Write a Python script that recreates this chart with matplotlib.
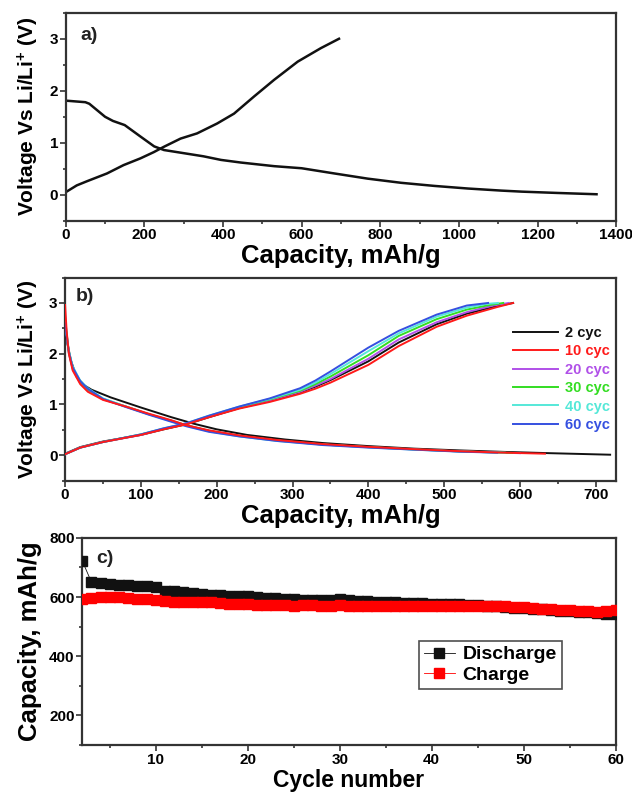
import matplotlib
matplotlib.use('Agg')
import matplotlib.pyplot as plt
from matplotlib.ticker import MultipleLocator

plt.rcParams['font.family'] = ['Liberation Sans', 'DejaVu Sans']
plt.rcParams['font.weight'] = 'bold'
plt.rcParams['mathtext.fontset'] = 'custom'
plt.rcParams['mathtext.rm'] = 'Liberation Sans:bold'
plt.rcParams['mathtext.bf'] = 'Liberation Sans:bold'
plt.rcParams['mathtext.default'] = 'bf'

# ---- panel a: first discharge / charge ----
a_dis_cap = [0, 50, 60, 100, 120, 150, 190, 225, 250, 300, 350, 395, 445, 530, 600, 683, 768, 853, 938, 1023, 1108, 1160, 1250, 1350]
a_dis_v = [1.81, 1.78, 1.75, 1.50, 1.42, 1.34, 1.12, 0.93, 0.86, 0.80, 0.74, 0.67, 0.62, 0.55, 0.51, 0.41, 0.31, 0.23, 0.17, 0.12, 0.08, 0.06, 0.035, 0.01]
a_chg_cap = [0, 28, 54, 105, 147, 190, 224, 249, 292, 334, 385, 428, 479, 530, 590, 649, 695]
a_chg_v = [0.05, 0.18, 0.26, 0.41, 0.57, 0.70, 0.82, 0.92, 1.08, 1.18, 1.37, 1.56, 1.89, 2.21, 2.56, 2.82, 3.0]

# ---- panel b: selected cycles ----
cycle_labels = ['2 cyc', '10 cyc', '20 cyc', '30 cyc', '40 cyc', '60 cyc']
cycle_colors = ['#111111', '#ff1a1a', '#b050e8', '#33dd22', '#55e8d8', '#3550e0']

dis_cap_2 = [0, 3, 8, 15, 25, 35, 60, 100, 140, 170, 200, 240, 290, 340, 400, 460, 520, 580, 640, 719]
dis_v_2 = [2.55, 2.2, 1.85, 1.55, 1.38, 1.29, 1.14, 0.94, 0.75, 0.62, 0.51, 0.40, 0.31, 0.24, 0.18, 0.13, 0.095, 0.065, 0.04, 0.01]
dis_cap_10 = [0, 2, 5, 10, 20, 30, 50, 80, 110, 140, 160, 190, 230, 280, 340, 400, 460, 520, 580, 633]
dis_v_10 = [2.96, 2.45, 2.0, 1.67, 1.40, 1.25, 1.09, 0.96, 0.82, 0.69, 0.59, 0.49, 0.39, 0.30, 0.22, 0.165, 0.12, 0.08, 0.05, 0.03]
dis_cap_20 = [0, 2, 5, 10, 20, 30, 50, 80, 110, 140, 160, 190, 230, 280, 340, 400, 460, 520, 600]
dis_v_20 = [2.75, 2.4, 2.0, 1.7, 1.42, 1.28, 1.10, 0.96, 0.81, 0.68, 0.59, 0.48, 0.38, 0.29, 0.21, 0.16, 0.115, 0.075, 0.04]
dis_cap_30 = [0, 2, 5, 10, 20, 30, 50, 80, 110, 140, 160, 190, 230, 280, 340, 400, 460, 520, 590]
dis_v_30 = [2.7, 2.4, 2.02, 1.72, 1.45, 1.30, 1.11, 0.96, 0.81, 0.68, 0.59, 0.48, 0.38, 0.29, 0.21, 0.16, 0.115, 0.075, 0.045]
dis_cap_40 = [0, 2, 5, 10, 20, 30, 50, 80, 110, 140, 160, 190, 230, 280, 340, 400, 460, 520, 580]
dis_v_40 = [2.65, 2.38, 2.05, 1.75, 1.47, 1.32, 1.12, 0.96, 0.81, 0.67, 0.58, 0.47, 0.37, 0.28, 0.21, 0.155, 0.11, 0.075, 0.05]
dis_cap_60 = [0, 2, 5, 10, 20, 30, 50, 80, 110, 140, 160, 190, 230, 280, 340, 400, 460, 520, 570]
dis_v_60 = [2.6, 2.35, 2.03, 1.73, 1.46, 1.31, 1.11, 0.95, 0.80, 0.66, 0.57, 0.46, 0.37, 0.28, 0.20, 0.15, 0.11, 0.07, 0.05]

chg_cap_2 = [0, 20, 50, 100, 130, 160, 190, 230, 270, 310, 330, 350, 400, 440, 490, 530, 570, 591]
chg_v_2 = [0.03, 0.16, 0.27, 0.40, 0.51, 0.61, 0.75, 0.93, 1.07, 1.24, 1.35, 1.48, 1.85, 2.22, 2.58, 2.79, 2.94, 3.0]
chg_cap_10 = [0, 20, 50, 100, 130, 160, 190, 230, 270, 310, 330, 350, 400, 440, 490, 530, 570, 591]
chg_v_10 = [0.02, 0.15, 0.26, 0.40, 0.51, 0.61, 0.75, 0.92, 1.05, 1.21, 1.31, 1.43, 1.78, 2.15, 2.53, 2.75, 2.92, 3.0]
chg_cap_20 = [0, 20, 50, 100, 130, 160, 190, 230, 270, 310, 330, 350, 400, 440, 490, 530, 565, 585]
chg_v_20 = [0.02, 0.15, 0.26, 0.40, 0.52, 0.62, 0.76, 0.94, 1.08, 1.25, 1.37, 1.50, 1.90, 2.28, 2.62, 2.82, 2.95, 3.0]
chg_cap_30 = [0, 20, 50, 100, 130, 160, 190, 230, 270, 310, 330, 350, 400, 440, 490, 530, 560, 578]
chg_v_30 = [0.02, 0.15, 0.26, 0.41, 0.52, 0.62, 0.77, 0.95, 1.10, 1.27, 1.40, 1.55, 1.97, 2.35, 2.68, 2.87, 2.96, 3.0]
chg_cap_40 = [0, 20, 50, 100, 130, 160, 190, 230, 270, 310, 330, 350, 400, 440, 490, 530, 555, 571]
chg_v_40 = [0.02, 0.15, 0.26, 0.41, 0.53, 0.63, 0.78, 0.96, 1.11, 1.29, 1.43, 1.60, 2.05, 2.40, 2.73, 2.91, 2.98, 3.0]
chg_cap_60 = [0, 20, 50, 100, 130, 160, 190, 230, 270, 310, 330, 350, 400, 440, 490, 530, 558]
chg_v_60 = [0.02, 0.15, 0.26, 0.41, 0.53, 0.63, 0.78, 0.96, 1.12, 1.32, 1.47, 1.65, 2.12, 2.45, 2.77, 2.95, 3.0]

# ---- panel c: cycling ----
cycles = list(range(2, 61))
discharge_cap = [722, 650, 648, 645, 642, 640, 638, 636, 635,
                 622, 620, 617, 612, 610, 608, 607, 605, 604, 603,
                 600, 598, 596, 594, 592, 591, 590, 590, 591, 592,
                 590, 588, 586, 584, 583, 582, 581, 580, 579, 578,
                 577, 576, 575, 574, 572, 570, 568, 566, 564, 562,
                 560, 558, 556, 554, 552, 550, 548, 546, 544, 542]
charge_cap = [595, 596, 600, 601, 599, 597, 595, 593, 591,
              587, 583, 582, 583, 584, 582, 580, 578, 576, 575,
              574, 573, 572, 572, 571, 572, 572, 571, 571, 572,
              571, 570, 570, 570, 569, 570, 570, 570, 570, 570,
              569, 569, 569, 570, 571, 571, 570, 569, 567, 565,
              563, 561, 559, 557, 555, 553, 552, 551, 554, 555]

fig = plt.figure(figsize=(6.32, 7.97), dpi=100)
ax_a = fig.add_axes([0.104, 0.723, 0.871, 0.261])
ax_b = fig.add_axes([0.103, 0.397, 0.872, 0.2547])
ax_c = fig.add_axes([0.1302, 0.0652, 0.8437, 0.260])

spine_col = '#333333'
for ax in (ax_a, ax_b, ax_c):
    for s in ax.spines.values():
        s.set_linewidth(1.6)
        s.set_color(spine_col)
    ax.tick_params(which='both', direction='out', top=False, right=False,
                   labelsize=11, color=spine_col, width=1.2, pad=1.5)
    ax.tick_params(which='major', length=4)
    ax.tick_params(which='minor', length=2.5)

ylab = 'Voltage Vs Li/Li$^{+}$ (V)'

# panel a
ax_a.plot(a_dis_cap, a_dis_v, color='#111111', lw=1.8)
ax_a.plot(a_chg_cap, a_chg_v, color='#111111', lw=1.8)
ax_a.set_xlim(0, 1400)
ax_a.set_ylim(-0.5, 3.5)
ax_a.xaxis.set_major_locator(MultipleLocator(200))
ax_a.xaxis.set_minor_locator(MultipleLocator(100))
ax_a.yaxis.set_major_locator(MultipleLocator(1))
ax_a.yaxis.set_minor_locator(MultipleLocator(0.5))
ax_a.set_xlabel('Capacity, mAh/g', fontsize=18.5, fontweight='bold', labelpad=1)
ax_a.set_ylabel(ylab, fontsize=15, fontweight='bold', labelpad=6)
ax_a.text(0.026, 0.93, 'a)', transform=ax_a.transAxes, fontsize=14,
          fontweight='bold', va='top', ha='left', color='#222222')

# panel b
dis_caps = [dis_cap_2, dis_cap_10, dis_cap_20, dis_cap_30, dis_cap_40, dis_cap_60]
dis_vs = [dis_v_2, dis_v_10, dis_v_20, dis_v_30, dis_v_40, dis_v_60]
chg_caps = [chg_cap_2, chg_cap_10, chg_cap_20, chg_cap_30, chg_cap_40, chg_cap_60]
chg_vs = [chg_v_2, chg_v_10, chg_v_20, chg_v_30, chg_v_40, chg_v_60]
handles = []
for i, lab in enumerate(cycle_labels):
    z = 5 if lab == '10 cyc' else 3
    h, = ax_b.plot(dis_caps[i], dis_vs[i], color=cycle_colors[i], lw=1.4, zorder=z, label=lab)
    ax_b.plot(chg_caps[i], chg_vs[i], color=cycle_colors[i], lw=1.4, zorder=z)
    handles.append(h)
ax_b.set_xlim(0, 727)
ax_b.set_ylim(-0.5, 3.5)
ax_b.xaxis.set_major_locator(MultipleLocator(100))
ax_b.xaxis.set_minor_locator(MultipleLocator(50))
ax_b.yaxis.set_major_locator(MultipleLocator(1))
ax_b.yaxis.set_minor_locator(MultipleLocator(0.5))
ax_b.set_xlabel('Capacity, mAh/g', fontsize=18.5, fontweight='bold', labelpad=1)
ax_b.set_ylabel(ylab, fontsize=15, fontweight='bold', labelpad=6)
ax_b.text(0.02, 0.95, 'b)', transform=ax_b.transAxes, fontsize=14,
          fontweight='bold', va='top', ha='left', color='#222222')
leg_b = ax_b.legend(handles=handles, loc='upper right', bbox_to_anchor=(1.0, 0.79),
                    frameon=False, fontsize=10.5, handlelength=3.1, handletextpad=0.5,
                    labelspacing=0.3, borderpad=0.2, borderaxespad=0.2)
for t, c in zip(leg_b.get_texts(), cycle_colors):
    t.set_color(c)
    t.set_fontweight('bold')

# panel c
ax_c.plot(cycles, discharge_cap, color='#111111', lw=0.6, marker='s', ms=7,
          mec='#111111', mfc='#111111', label='Discharge', zorder=3)
ax_c.plot(cycles, charge_cap, color='#ff0000', lw=0.6, marker='s', ms=7,
          mec='#ff0000', mfc='#ff0000', label='Charge', zorder=4)
ax_c.set_xlim(2, 60)
ax_c.set_ylim(100, 800)
ax_c.xaxis.set_major_locator(MultipleLocator(10))
ax_c.xaxis.set_minor_locator(MultipleLocator(5))
ax_c.yaxis.set_major_locator(MultipleLocator(200))
ax_c.yaxis.set_minor_locator(MultipleLocator(100))
ax_c.set_yticks([200, 400, 600, 800])
ax_c.set_xlabel('Cycle number', fontsize=16.5, fontweight='bold', labelpad=2)
ax_c.set_ylabel('Capacity, mAh/g', fontsize=18.5, fontweight='bold', labelpad=5)
ax_c.text(0.027, 0.94, 'c)', transform=ax_c.transAxes, fontsize=14,
          fontweight='bold', va='top', ha='left', color='#222222')
leg_c = ax_c.legend(loc='upper left', bbox_to_anchor=(0.631, 0.502), fontsize=14,
                    frameon=True, fancybox=False, edgecolor='#222222',
                    handlelength=1.6, handletextpad=0.4, borderpad=0.25,
                    labelspacing=0.15, borderaxespad=0)
leg_c.get_frame().set_linewidth(1.2)
for t in leg_c.get_texts():
    t.set_fontweight('bold')

plt.savefig('out.png', dpi=100)
